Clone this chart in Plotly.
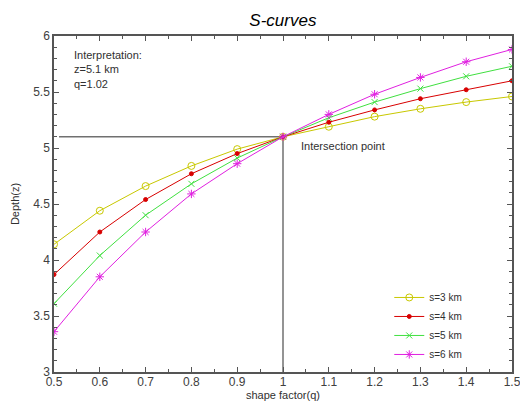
import plotly.graph_objects as go

q = [0.5, 0.6, 0.7, 0.8, 0.9, 1.0, 1.1, 1.2, 1.3, 1.4, 1.5]
z_s3 = [4.14, 4.44, 4.66, 4.84, 4.99, 5.10, 5.19, 5.28, 5.35, 5.41, 5.46]
z_s4 = [3.87, 4.25, 4.54, 4.77, 4.95, 5.10, 5.23, 5.34, 5.44, 5.52, 5.60]
z_s5 = [3.61, 4.04, 4.40, 4.68, 4.91, 5.10, 5.27, 5.41, 5.53, 5.64, 5.73]
z_s6 = [3.36, 3.85, 4.25, 4.59, 4.86, 5.10, 5.30, 5.48, 5.63, 5.77, 5.88]
names = ["s=3 km", "s=4 km", "s=5 km", "s=6 km"]
colors = ["#c8c800", "#d80000", "#40e040", "#e020e0"]
symbols = ["circle-open", "circle", "x-thin-open", "asterisk-open"]
sizes = [7, 4, 6, 7]

interp_z = 5.1
interp_q = 1.0
x_min, x_max = 0.5, 1.5
y_min, y_max = 3, 6

FONT = "Liberation Sans, Arial, sans-serif"
fig = go.Figure()

for zs, nm, c, sym, sz in zip([z_s3, z_s4, z_s5, z_s6], names, colors, symbols, sizes):
    fig.add_trace(go.Scatter(
        x=q, y=zs, name=nm, mode="lines+markers",
        line=dict(color=c, width=1),
        marker=dict(symbol=sym, size=sz, color=c, line=dict(color=c, width=1)),
    ))

# cross lines
fig.add_shape(type="line", x0=0.511, x1=interp_q, y0=interp_z, y1=interp_z,
              line=dict(color="#707070", width=1.5), layer="below")
fig.add_shape(type="line", x0=interp_q, x1=interp_q, y0=y_min, y1=interp_z,
              line=dict(color="#707070", width=1.5), layer="below")

fig.add_annotation(x=0.54, y=5.9, xref="x", yref="y", text="Interpretation:<br>z=5.1 km<br>q=1.02",
                   showarrow=False, xanchor="left", yanchor="top", align="left",
                   font=dict(family=FONT, size=11, color="#303030"))
fig.add_annotation(x=1.035, y=5.02, xref="x", yref="y", text="Intersection point",
                   showarrow=False, xanchor="left", yanchor="middle", align="left",
                   font=dict(family=FONT, size=11, color="#303030"))

axis_common = dict(
    showgrid=False, zeroline=False, showline=True, linecolor="#555555", linewidth=1.5,
    mirror="ticks", ticks="inside", ticklen=5, tickcolor="#555555", tickwidth=1,
    tickfont=dict(family=FONT, size=12, color="#404040"), automargin=False,
    ticklabeloverflow="allow",
)

fig.update_xaxes(range=[x_min, x_max], dtick=0.1, tick0=0.5,
                 minor=dict(dtick=0.05, ticks="inside", ticklen=3, tickcolor="#555555"),
                 title=dict(text="shape factor(q)", font=dict(family=FONT, size=11, color="#303030"), standoff=0),
                 ticklabelstandoff=-2,
                 **axis_common)
fig.update_yaxes(range=[y_min, y_max], dtick=0.5, tick0=3,
                 minor=dict(dtick=0.1, ticks="inside", ticklen=3, tickcolor="#555555"),
                 title=dict(text="Depth(z)", font=dict(family=FONT, size=11, color="#303030"), standoff=11),
                 **axis_common)

fig.update_layout(
    width=520, height=402,
    margin=dict(l=54, r=8, t=36, b=30),
    paper_bgcolor="white", plot_bgcolor="white",
    title=dict(text="<i>S-curves</i>", x=0.544, xanchor="center", y=0.95, yanchor="middle",
               font=dict(family=FONT, size=17, color="#000000"), automargin=False),
    legend=dict(x=0.732, y=0.265, xanchor="left", yanchor="top", bgcolor="rgba(0,0,0,0)",
                font=dict(family=FONT, size=10, color="#303030"), tracegroupgap=0,
                itemwidth=30),
    showlegend=True,
)

fig.write_html("out.html", config={"displayModeBar": False},
               post_script="document.body.style.margin='0';")
